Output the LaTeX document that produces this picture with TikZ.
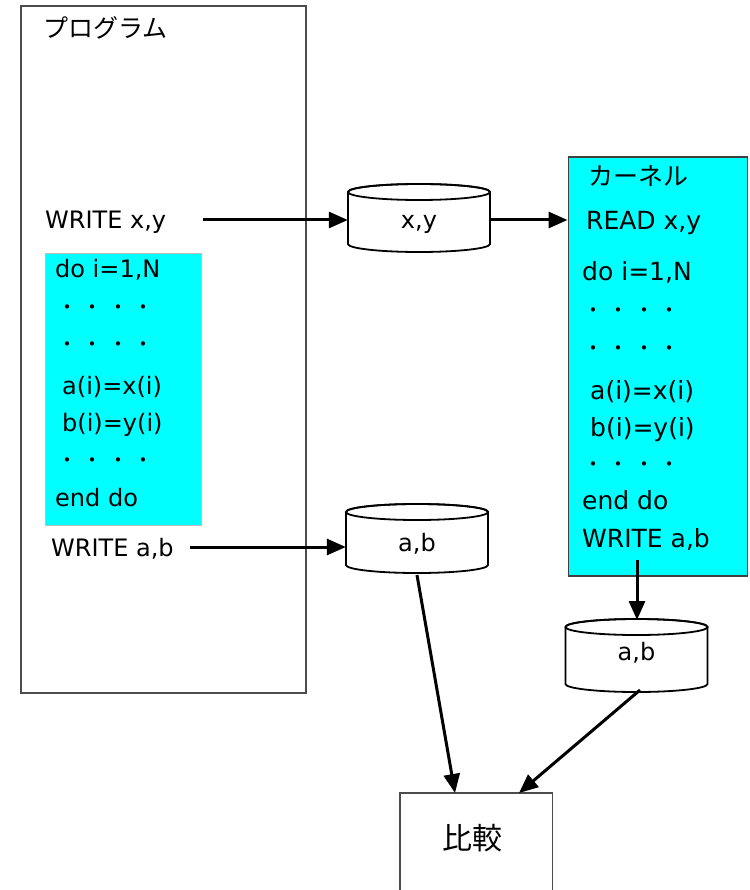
\documentclass[tikz,border=0pt]{standalone}
\usepackage{fontspec}
\setmainfont{DejaVu Sans}
\newfontfamily\jp{Noto Sans CJK JP}
\usetikzlibrary{arrows.meta}
\definecolor{aqua}{HTML}{00FFFF}
\newcommand{\dotrow}{{\jp\fontsize{20}{20}\selectfont\makebox[25.5pt]{・}\makebox[25.5pt]{・}\makebox[25.5pt]{・}\makebox[25.5pt]{・}}}
\newcommand{\mycyl}[4]{% name, cx, ytop, ybot
  \node[inner sep=0, minimum width=142pt, minimum height={#4-#3+16}] (#1) at (#2,{(#3+#4)/2}) {};
  \draw[cylline, fill=white] (#2-71,#3) -- (#2-71,#4) arc[start angle=180,end angle=360,x radius=71pt,y radius=8pt] -- (#2+71,#3) arc[start angle=0,end angle=180,x radius=71pt,y radius=8pt];
  \draw[cylline] (#2,#3) ellipse[x radius=71pt,y radius=8pt];
}
\begin{document}
\begin{tikzpicture}[x=1pt,y=-1pt,
  txt/.style={inner sep=0, anchor=base west, font=\fontsize{24}{24}\selectfont},
  ktxt/.style={inner sep=0, anchor=base west, font=\fontsize{25}{25}\selectfont},
  jtxt/.style={inner sep=0, anchor=base west, font=\jp\fontsize{25}{25}\selectfont},
  frame/.style={draw=black!70, line width=1.8pt},
  cyanbox/.style={fill=aqua, draw=black!25, line width=1.2pt},
  kbox/.style={fill=aqua, draw=black!75, line width=1.8pt},
  cylline/.style={draw=black, line width=1.8pt},
  arr/.style={line width=3pt, -{Triangle[length=19pt,width=16pt]}}]
\useasboundingbox (0,0) rectangle (749,890);
\fill[white] (0,0) rectangle (749,890);
% program box
\node[frame, inner sep=0, anchor=north west, minimum width=285pt, minimum height=687pt] (prog) at (20,5) {};
\node[jtxt] (progtitle) at (43,38) {プログラム};
\node[txt] (wxy) at (45,229) {WRITE x,y};
\coordinate (wxyout) at (203,220);
% left loop box
\node[cyanbox, inner sep=0, anchor=north west, minimum width=156pt, minimum height=272pt] (loopL) at (45,253) {};
\node[txt] (l1) at (55,277) {do i=1,N};
\node[txt] (l2) at (54.25,314.5) {\dotrow};
\node[txt] (l3) at (54.25,351.5) {\dotrow};
\node[txt] (l4) at (62,394) {a(i)=x(i)};
\node[txt] (l5) at (62,431) {b(i)=y(i)};
\node[txt] (l6) at (54.25,467.5) {\dotrow};
\node[txt] (l7) at (55,506) {end do};
\node[txt] (wab) at (51,556) {WRITE a,b};
\coordinate (wabout) at (190,547);
% kernel box
\node[kbox, inner sep=0, anchor=north west, minimum width=179pt, minimum height=419pt] (kern) at (567.5,156) {};
\node[jtxt] (k1) at (588,186) {カーネル};
\node[ktxt] (k2) at (586,230) {READ x,y};
\node[ktxt] (k3) at (582,280) {do i=1,N};
\node[txt] (k4) at (580.25,317.5) {\dotrow};
\node[txt] (k5) at (580.25,355.5) {\dotrow};
\node[ktxt] (k6) at (590,399) {a(i)=x(i)};
\node[ktxt] (k7) at (590,436) {b(i)=y(i)};
\node[txt] (k8) at (580.25,471.5) {\dotrow};
\node[ktxt] (k9) at (582,509) {end do};
\node[ktxt] (k10) at (582,547) {WRITE a,b};
\coordinate (kout) at (637,560);
% cylinders
\mycyl{cylxy}{419}{192}{244}
\node[txt, anchor=base] (cylxyl) at (419,229) {x,y};
\mycyl{cylab}{417}{512}{565}
\node[txt, anchor=base] (cylabl) at (417,551) {a,b};
\mycyl{cylabk}{636.5}{627}{684}
\node[txt, anchor=base] (cylabkl) at (636.5,660) {a,b};
% compare box (extends past bottom)
\node[inner sep=0, anchor=north west, minimum width=152pt, minimum height=97pt] (cmp) at (400,793) {};
\draw[frame] (cmp.south west) -- (cmp.north west) -- (cmp.north east) -- (cmp.south east);
\node[inner sep=0, font=\jp\fontsize{30}{30}\selectfont] (cmpl) at (472,838) {比較};
% connectors
\draw[arr] (wxyout) -- (cylxy.west |- wxyout);
\draw[arr] (cylxy.east |- wxyout) -- (kern.west |- wxyout);
\draw[arr] (wabout) -- (cylab.west |- wabout);
\draw[arr] (417,575) coordinate (a4s) -- (455,793) coordinate (a4e);
\draw[arr] (kout) -- (637,620) coordinate (a5e);
\draw[arr] (640,690) coordinate (a6s) -- (519,793) coordinate (a6e);
\end{tikzpicture}
\end{document}
